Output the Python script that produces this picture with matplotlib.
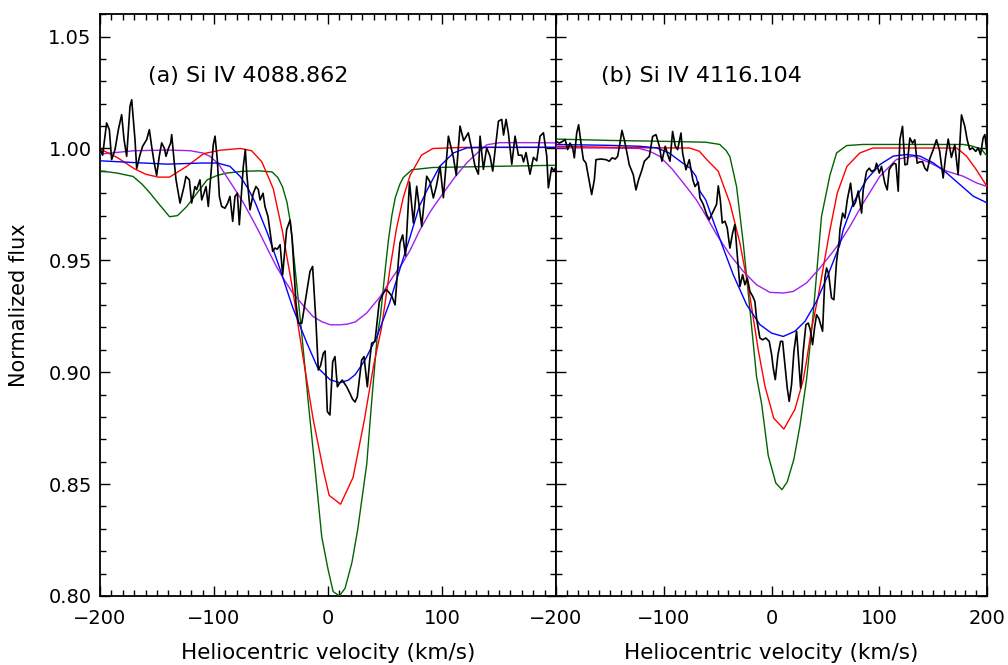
import numpy as np
import matplotlib
matplotlib.use("Agg")
import matplotlib.pyplot as plt
from matplotlib.ticker import MultipleLocator

# ---- panel (a): Si IV 4088.862 ----
a_obs_v = [-200, -197.7, -194.2, -191.8, -189.8, -186.8, -183.9, -181, -178.9, -176.6,
           -173.7, -172.2, -169.3, -167.8, -165, -162.6, -159.1, -156.7, -154.7, -152.6,
           -150.3, -148, -145.9, -143.5, -142.1, -140, -138, -137.1, -135.1, -133.3,
           -129.8, -126.3, -124.6, -121.6, -119.6, -116.7, -115.2, -112.3, -110.8, -108.8,
           -107, -105, -100.6, -99.1, -97.1, -95.3, -93.3, -90.4, -88, -86,
           -83.6, -81.6, -79.5, -77.8, -74.3, -72.5, -71.3, -68.4, -65.5, -63.2,
           -61.1, -59.6, -57, -55.3, -52.6, -48.5, -46.5, -44.5, -42, -39.8,
           -36.3, -33.3, -31.5, -28.1, -26, -23, -19.5, -15.8, -13.5, -10.5,
           -8.5, -6.5, -4.1, -2.5, -0.6, 1.7, 4.1, 6.1, 8.2, 10,
           12.5, 14.5, 16.4, 19.3, 21.5, 23.7, 25.7, 28, 29.5, 31.6,
           34.5, 36.5, 38.3, 41.2, 45, 48.5, 51, 53, 56, 58.8,
           61, 63.1, 65.5, 68, 71.5, 74.9, 77.8, 82.2, 86.6, 89.5,
           92.4, 95, 98.3, 101.2, 105.6, 110, 112.5, 115.8, 119, 123.1,
           126.1, 129, 131.9, 133.4, 136.3, 139.2, 142.1, 144.5, 149.5, 152.4,
           154, 156.2, 158.2, 161.2, 164.1, 167, 170, 171.5, 173.7, 177.2,
           180.2, 183.1, 186, 189, 191.9, 193.3, 196.2, 198.3, 200]
a_obs_f = [1.000, 0.997, 1.0114, 1.0084, 0.995, 0.9995, 1.0084, 1.0151, 1.0039, 0.9965,
           1.0188, 1.0218, 1.0039, 0.991, 0.997, 1.001, 1.0039, 1.0084, 1.001, 0.994,
           0.988, 0.9965, 1.0025, 1.000, 0.9965, 1.000, 1.0025, 1.0062, 0.995, 0.986,
           0.9756, 0.983, 0.9875, 0.986, 0.9756, 0.983, 0.9816, 0.986, 0.977, 0.980,
           0.983, 0.9741, 1.0018, 1.0055, 0.995, 0.9786, 0.9741, 0.9733, 0.9756, 0.9786,
           0.9674, 0.9786, 0.980, 0.9659, 0.992, 0.9995, 0.989, 0.9726, 0.980, 0.983,
           0.9816, 0.977, 0.980, 0.9741, 0.9695, 0.954, 0.9555, 0.955, 0.957, 0.9435,
           0.9637, 0.968, 0.960, 0.9309, 0.922, 0.9219, 0.933, 0.945, 0.9473, 0.9218,
           0.901, 0.903, 0.9085, 0.9095, 0.8824, 0.8809, 0.9047, 0.907, 0.8935, 0.895,
           0.8965, 0.895, 0.8935, 0.8905, 0.888, 0.8867, 0.889, 0.899, 0.9054, 0.907,
           0.8935, 0.905, 0.913, 0.9137, 0.9316, 0.9353, 0.937, 0.936, 0.934, 0.9301,
           0.945, 0.9577, 0.9614, 0.952, 0.985, 0.9667, 0.9831, 0.9652, 0.9876, 0.985,
           0.9779, 0.983, 0.992, 0.978, 1.0055, 0.996, 0.988, 1.010, 1.0035, 1.007,
           0.9996, 0.992, 0.9885, 1.0055, 0.9907, 1.0003, 0.9966, 0.9899, 1.0122, 1.013,
           1.006, 1.013, 1.007, 0.9929, 1.0055, 0.997, 0.997, 0.994, 0.9982, 0.9885,
           0.996, 0.9945, 1.0055, 1.007, 0.9966, 0.9824, 0.9915, 0.9899, 0.992]

a_red_v = [-200, -185, -170, -160, -149, -139, -124, -109, -95, -77, -67, -58, -48, -40,
           -31, -22, -13, -4, 1, 11, 22, 32, 40, 47, 54, 60, 66, 72, 82, 92, 120, 200]
a_red_f = [0.9998, 0.996, 0.991, 0.9885, 0.9872, 0.9872, 0.992, 0.9977, 0.9992, 1.000,
           0.999, 0.994, 0.982, 0.963, 0.937, 0.907, 0.879, 0.856, 0.845, 0.841,
           0.853, 0.879, 0.903, 0.920, 0.945, 0.964, 0.978, 0.988, 0.997, 1.000,
           1.0005, 1.0005]

a_green_v = [-200, -185, -171, -163, -156, -148, -139, -132, -124, -115, -106, -97, -89,
             -75, -60, -49, -44, -40, -36, -33, -27, -23, -17, -11, -5.5, 0, 4.5, 10,
             15, 21, 26, 34, 38, 43, 46, 50, 53, 56, 59, 63, 66, 73.5, 92, 200]
a_green_f = [0.990, 0.989, 0.9875, 0.984, 0.980, 0.975, 0.9695, 0.970, 0.974, 0.980,
             0.986, 0.988, 0.989, 0.9898, 0.990, 0.9895, 0.987, 0.983, 0.976, 0.967,
             0.937, 0.917, 0.885, 0.855, 0.8265, 0.812, 0.802, 0.800, 0.8035, 0.815,
             0.8295, 0.859, 0.885, 0.915, 0.925, 0.945, 0.959, 0.970, 0.978, 0.984,
             0.987, 0.9905, 0.9915, 0.9925]

a_blue_v = [-200, -170, -141, -110, -97, -86, -77, -70, -64, -53, -42, -31, -18.5, -9,
            2, 10.5, 18, 24, 32.5, 43, 54, 63, 72, 80, 87, 98, 110, 122, 140, 200]
a_blue_f = [0.9945, 0.9937, 0.993, 0.9935, 0.9935, 0.992, 0.9875, 0.982, 0.976, 0.962,
            0.946, 0.929, 0.913, 0.902, 0.8966, 0.8953, 0.8965, 0.899, 0.9055, 0.916,
            0.931, 0.946, 0.9605, 0.974, 0.9815, 0.992, 0.998, 1.0003, 1.0005, 1.0005]

a_purple_v = [-200, -170, -140, -121, -110, -103.5, -96, -89, -82, -74.5, -67, -60, -52,
              -45, -38, -31, -22, -13, -5, 2, 10.5, 17, 24, 34, 45.6, 57, 65, 72, 80.7,
              90, 101, 111, 122, 131, 139.5, 151, 180, 200]
a_purple_f = [0.9975, 0.999, 0.9993, 0.999, 0.998, 0.9965, 0.993, 0.9875, 0.982, 0.976,
              0.969, 0.9623, 0.954, 0.947, 0.941, 0.9355, 0.930, 0.9248, 0.9225, 0.9212,
              0.9212, 0.9215, 0.9225, 0.9265, 0.9337, 0.9427, 0.9485, 0.9545, 0.9637,
              0.972, 0.980, 0.987, 0.9937, 0.998, 1.0017, 1.0026, 1.0026, 1.0025]

# ---- panel (b): Si IV 4116.104 ----
b_obs_v = [-200, -196.9, -193.8, -191.5, -189.2, -187, -184.5, -183, -180.8, -179,
           -176.8, -174.6, -172.2, -169.1, -166.9, -164.4, -162.9, -158.3, -153.6, -150.5,
           -148, -145, -142.8, -140.6, -138.8, -136.6, -134.4, -132, -128.3, -125.8,
           -123.3, -120.2, -118, -113.4, -110.3, -107.2, -104.1, -101.7, -98.6, -96.4,
           -94.2, -91.8, -89.3, -87.1, -84, -82.5, -79.4, -76.3, -73, -71,
           -68, -66.4, -63.3, -60.2, -57.8, -54, -51, -49.4, -47.5, -45.7,
           -43.2, -41.1, -38.6, -36.1, -34, -31.8, -29.3, -26.8, -24.7, -22.5,
           -20, -17.5, -15.4, -13.9, -10.8, -8.3, -5.2, -2.1, 0.1, 1.6,
           3.5, 6, 8.4, 10.3, 12.4, 14.6, 16.4, 18.6, 20.8, 23.3,
           25.7, 27, 29.4, 31.9, 34.1, 36, 38.1, 40, 41.8, 44,
           47.4, 49.5, 51.1, 53, 55.7, 57.9, 60.4, 62.8, 63.5, 66,
           68.1, 70.3, 73.4, 75.8, 78, 80.5, 83.6, 85.1, 88.2, 90.7,
           92.9, 95.9, 97.5, 100, 102.1, 105.2, 107.4, 109.2, 111, 113.6,
           115.5, 117.6, 119.1, 121.6, 123.8, 126, 128.4, 130.9, 133, 135.2,
           137.5, 140.2, 142.3, 144.5, 147, 150, 153.1, 156, 159.3, 161.5,
           164, 167, 170.1, 173.2, 176.3, 179.4, 181.6, 184, 186.5, 189.6,
           191.8, 194, 196.4, 198, 200]
b_obs_f = [1.0032, 1.0024, 1.0032, 1.004, 0.9995, 1.0024, 1.0003, 0.9958, 1.0069, 1.0106,
           1.0024, 0.995, 0.9935, 0.9853, 0.9794, 0.9861, 0.995, 0.9953, 0.995, 0.9943,
           0.9958, 0.9953, 0.9965, 1.0024, 1.0081, 1.0039, 0.9987, 0.9927, 0.9883, 0.9815,
           0.9861, 0.9905, 0.9943, 0.9965, 1.0054, 1.0062, 1.001, 0.9943, 1.001, 0.9973,
           0.9943, 1.0076, 1.001, 0.9995, 1.0069, 0.998, 0.9905, 0.995, 0.986, 0.983,
           0.985, 0.9779, 0.975, 0.9705, 0.9682, 0.972, 0.975, 0.9833, 0.977, 0.9667,
           0.9675, 0.9645, 0.9555, 0.9622, 0.966, 0.9525, 0.9383, 0.9436, 0.9391, 0.9421,
           0.9361, 0.934, 0.9316, 0.9242, 0.9153, 0.9145, 0.9153, 0.9138, 0.9079, 0.9019,
           0.8967, 0.9079, 0.9138, 0.9138, 0.9034, 0.893, 0.887, 0.8944, 0.9093, 0.9183,
           0.9019, 0.893, 0.9093, 0.9212, 0.922, 0.919, 0.9123, 0.920, 0.9257, 0.924,
           0.9183, 0.9421, 0.9466, 0.944, 0.9332, 0.9324, 0.9496, 0.9585, 0.9637, 0.9711,
           0.9689, 0.977, 0.9845, 0.9741, 0.976, 0.981, 0.9711, 0.9815, 0.9897, 0.9912,
           0.9897, 0.9905, 0.9934, 0.989, 0.992, 0.9845, 0.9815, 0.9905, 0.992, 0.9934,
           0.993, 0.9809, 1.0039, 1.0099, 0.9927, 0.993, 1.0047, 1.0024, 1.0039, 0.9934,
           0.994, 0.9941, 0.9912, 0.990, 0.9956, 0.9993, 1.0039, 0.999, 0.9868, 0.996,
           1.0042, 0.996, 1.0017, 0.9883, 1.015, 1.0099, 1.0039, 0.9995, 1.0003, 0.9987,
           1.0003, 0.9972, 1.0047, 1.0062, 0.998]

b_red_v = [-200, -150, -114, -76, -67, -60, -49.4, -38.6, -29.3, -20, -12.3, -6, 0, 2,
           11.5, 21.8, 29.5, 32.5, 37, 43.3, 54, 61, 70, 82, 94, 172, 181, 190, 200]
b_red_f = [1.001, 1.0005, 1.0003, 1.0002, 0.9988, 0.995, 0.9898, 0.9756, 0.9577, 0.9338,
           0.910, 0.8936, 0.8832, 0.8795, 0.8746, 0.8835, 0.8966, 0.905, 0.919, 0.9338,
           0.963, 0.980, 0.992, 0.998, 1.0002, 1.0002, 0.9966, 0.9906, 0.983]

b_green_v = [-200, -150, -100, -61, -48, -42, -38.6, -32.4, -26.2, -20, -13.9, -9.2, -3,
             4, 9.7, 14.6, 20.8, 26.4, 32.6, 38.5, 46.4, 54.2, 60.4, 69.7, 85, 178, 187,
             195, 200]
b_green_f = [1.0042, 1.0036, 1.0032, 1.0028, 1.0018, 0.999, 0.9963, 0.9829, 0.9577, 0.9279,
             0.8981, 0.886, 0.8627, 0.8505, 0.8475, 0.851, 0.8612, 0.8761, 0.897, 0.925,
             0.9696, 0.988, 0.998, 1.0013, 1.0018, 1.0018, 1.001, 0.9996, 0.9966]

b_blue_v = [-200, -150, -123, -107, -95, -82.5, -75.7, -70.1, -66.4, -61, -54, -44.8,
            -35.5, -23.1, -10.8, 0, 10.9, 21.7, 31, 41.8, 52.6, 63.4, 66.6, 75.8, 88.2,
            100.6, 113, 125.3, 137.7, 150, 162.4, 174.8, 187.2, 200]
b_blue_f = [1.0018, 1.0014, 1.001, 1.0003, 0.998, 0.9935, 0.9913, 0.9876, 0.9809, 0.977,
            0.9675, 0.9555, 0.9436, 0.9302, 0.9213, 0.9175, 0.916, 0.9183, 0.9227, 0.9317,
            0.9436, 0.957, 0.9637, 0.9756, 0.9861, 0.9928, 0.9966, 0.9973, 0.9966, 0.9936,
            0.9891, 0.9839, 0.9787, 0.9757]

b_purple_v = [-200, -150, -122.7, -113.4, -104, -91.8, -79.4, -70, -63.3, -51, -38.6,
              -26.2, -13.9, -1.5, 10.9, 20.2, 32.5, 44.9, 57.3, 63.4, 72.8, 85.1, 100.6,
              116, 131.5, 147, 162.4, 177.9, 190.3, 200]
b_purple_f = [1.0003, 1.0002, 1.000, 0.9988, 0.9966, 0.9906, 0.9831, 0.9772, 0.972, 0.9616,
              0.9525, 0.9451, 0.9391, 0.9357, 0.9354, 0.9361, 0.9399, 0.9466, 0.954, 0.958,
              0.9652, 0.9756, 0.9876, 0.9951, 0.9966, 0.9936, 0.9899, 0.9876, 0.9846, 0.983]

panel_labels = ["(a) Si IV 4088.862", "(b) Si IV 4116.104"]
x_ticks = [-200, -100, 0, 100, 200]
x_ticklabels_a = ["\u2212200", "\u2212100", "0", "100", ""]
x_ticklabels_b = ["\u2212200", "\u2212100", "0", "100", "200"]
y_ticks = [0.80, 0.85, 0.90, 0.95, 1.00, 1.05]
y_ticklabels = ["0.80", "0.85", "0.90", "0.95", "1.00", "1.05"]

plt.rcParams["font.family"] = "DejaVu Sans"
plt.rcParams["font.size"] = 14

fig = plt.figure(figsize=(10.08, 6.65), dpi=100)
# two panels glued together, sharing the flux scale
ax_a = fig.add_axes([100 / 1008, 1 - 596 / 665, 456 / 1008, 582 / 665])
ax_b = fig.add_axes([556 / 1008, 1 - 596 / 665, 431 / 1008, 582 / 665])

panels = [
    (ax_a, a_obs_v, a_obs_f, a_red_v, a_red_f, a_green_v, a_green_f,
     a_blue_v, a_blue_f, a_purple_v, a_purple_f, x_ticklabels_a),
    (ax_b, b_obs_v, b_obs_f, b_red_v, b_red_f, b_green_v, b_green_f,
     b_blue_v, b_blue_f, b_purple_v, b_purple_f, x_ticklabels_b),
]

for i, (ax, ov, of, rv, rf, gv, gf, bv, bf, pv, pf, xtl) in enumerate(panels):
    ax.plot(ov, of, color="black", lw=1.2, zorder=5)  # observed spectrum
    ax.plot(rv, rf, color="#ff0000", lw=1.0, zorder=4)
    ax.plot(gv, gf, color="#006400", lw=1.0, zorder=3)
    ax.plot(bv, bf, color="#0000ff", lw=1.0, zorder=4)
    ax.plot(pv, pf, color="#a020f0", lw=1.0, zorder=3)

    ax.set_xlim(-200, 200)
    ax.set_ylim(0.80, 1.0601)
    ax.set_xticks(x_ticks)
    ax.set_xticklabels(xtl)
    ax.set_yticks(y_ticks)
    ax.xaxis.set_minor_locator(MultipleLocator(10))
    ax.yaxis.set_minor_locator(MultipleLocator(0.01))
    ax.tick_params(which="both", direction="in", top=True, right=True, width=1.0)
    ax.tick_params(which="major", length=7.2)
    ax.tick_params(which="minor", length=4.3)
    ax.tick_params(axis="x", pad=9)
    ax.tick_params(axis="y", pad=6)
    for sp in ax.spines.values():
        sp.set_linewidth(1.3)

    ax.set_xlabel("Heliocentric velocity (km/s)", fontsize=15.5, labelpad=11)
    ax.text(0.105, 0.894, panel_labels[i], transform=ax.transAxes,
            ha="left", va="center", fontsize=16)

ax_a.set_yticklabels(y_ticklabels)
ax_a.set_ylabel("Normalized flux", fontsize=15, labelpad=14)
ax_b.tick_params(labelleft=False)

fig.savefig("out.png", dpi=100)
